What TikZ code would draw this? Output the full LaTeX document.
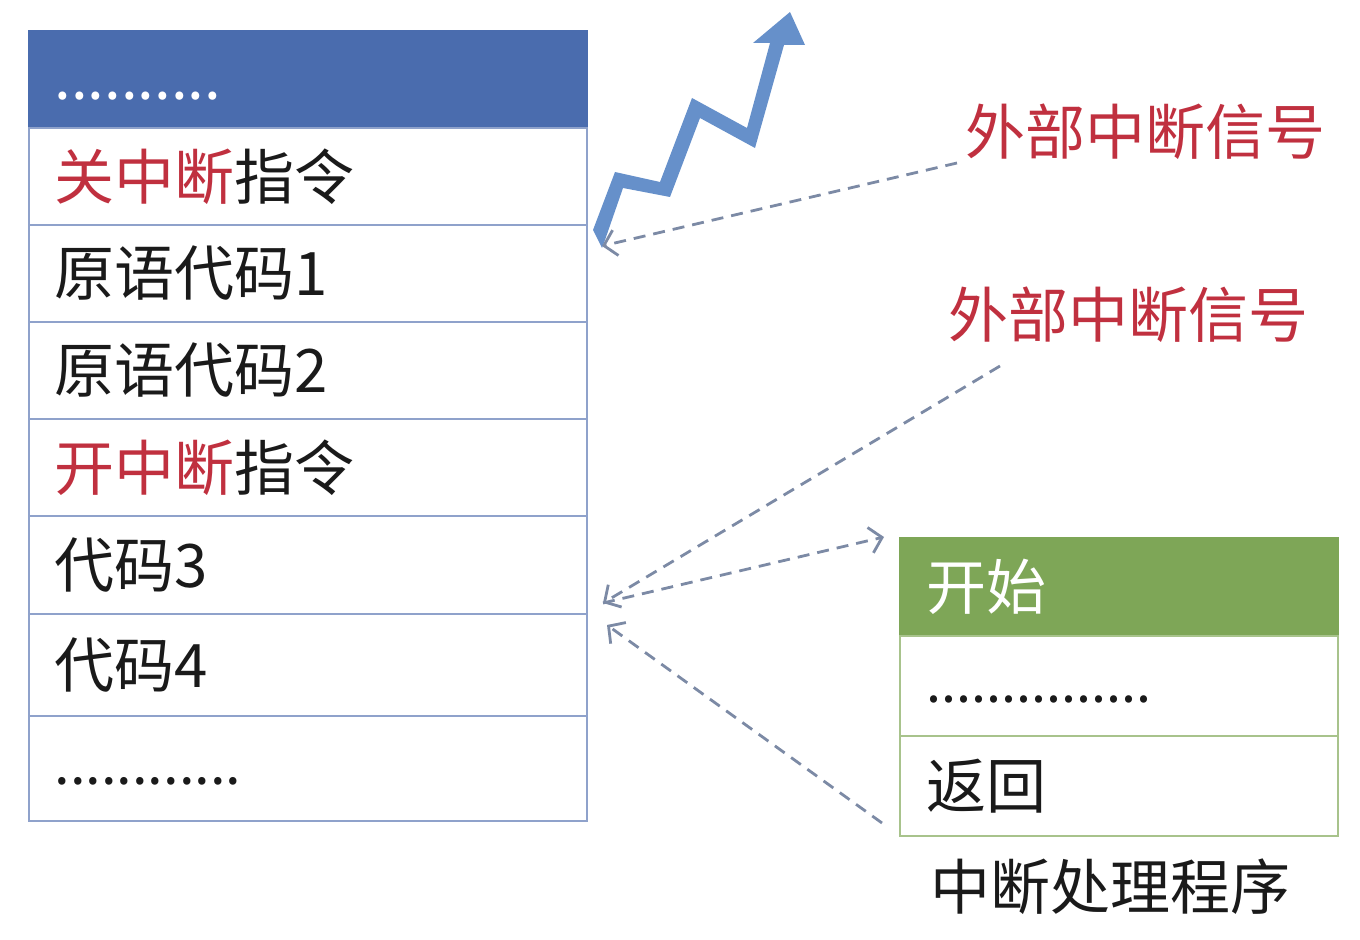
\documentclass[tikz,border=0pt]{standalone}
\usepackage{fontspec}
\setmainfont{Noto Sans CJK SC}
\usetikzlibrary{arrows.meta}
\definecolor{hdrblue}{HTML}{4A6CAE}
\definecolor{rowline}{HTML}{8FA2CB}
\definecolor{grn}{HTML}{7EA657}
\definecolor{grnline}{HTML}{A8C38C}
\definecolor{redtxt}{HTML}{C0303F}
\definecolor{sigcol}{HTML}{7C8AA5}
\definecolor{bolt}{HTML}{6690CA}
\definecolor{txt}{HTML}{1A1A1A}
\newcommand{\lowdots}[2]{\raisebox{-#1}[0pt][0pt]{#2}}
\begin{document}
\begin{tikzpicture}[x=0.5pt,y=-0.5pt,
  bigtext/.style={font=\fontsize{30pt}{36pt}\selectfont},
  lcell/.style={bigtext, draw=rowline, line width=1pt, anchor=north west,
    minimum width=279pt, text width=253.5pt, inner xsep=12.75pt, inner ysep=0pt,
    align=left, text=txt},
  rcell/.style={bigtext, draw=grnline, line width=1pt, anchor=north west,
    minimum width=219pt, text width=193pt, inner xsep=13pt, inner ysep=0pt,
    align=left, text=txt},
  siglabel/.style={bigtext, text=redtxt, anchor=west, inner sep=0pt},
  sigline/.style={draw=sigcol, line width=1.4pt, dash pattern=on 6pt off 4pt},
  sigarrow/.style={sigline, -{Straight Barb[length=6pt,width=13pt,line width=1.4pt]}}
]
\useasboundingbox (0,0) rectangle (1360,940);

% main program table
\node[lcell, fill=hdrblue, draw=hdrblue, minimum height=48.5pt, text=white] (hdr) at (28,30) {\lowdots{10pt}{..........}};
\node[lcell, minimum height=48.5pt] (r1) at (28,127) {\textcolor{redtxt}{关中断}指令};
\node[lcell, minimum height=48.5pt] (r2) at (28,224) {原语代码1};
\node[lcell, minimum height=48.5pt] (r3) at (28,321) {原语代码2};
\node[lcell, minimum height=48.5pt] (r4) at (28,418) {\textcolor{redtxt}{开中断}指令};
\node[lcell, minimum height=49pt] (r5) at (28,515) {代码3};
\node[lcell, minimum height=51pt] (r6) at (28,613) {代码4};
\node[lcell, minimum height=52.5pt] (r7) at (28,715) {\lowdots{8pt}{\fontsize{28pt}{34pt}\selectfont............}};

% interrupt handler table
\node[rcell, fill=grn, draw=grn, minimum height=49pt, text=white] (h0) at (899,537) {开始};
\node[rcell, minimum height=50pt] (h1) at (899,635) {\lowdots{8pt}{\fontsize{27pt}{34pt}\selectfont...............}};
\node[rcell, minimum height=50pt] (h2) at (899,735) {返回};
\node[bigtext, anchor=west, inner sep=0pt, text=txt] (cap) at (930,887) {中断处理程序};

% signal labels
\node[siglabel] (sig1) at (965,132) {外部中断信号};
\node[siglabel] (sig2) at (948,315) {外部中断信号};

% lightning bolt
\fill[bolt] (602,248) -- (593,230) -- (615,172) -- (660,182) -- (692,98)
  -- (747,128) -- (770,43) -- (753,43) -- (790,12) -- (805,45) -- (784,45)
  -- (755,148) -- (700,118) -- (670,197) -- (623,188) -- (605,240) -- cycle;

% connector end points
\coordinate (s1) at (957,163);
\coordinate (t1) at (602,246);
\coordinate (s2) at (1000,366);
\coordinate (t2) at (603,603);
\coordinate (e3) at (884,537);
\coordinate (s4) at (882,823);
\coordinate (t4) at (607,625);

\draw[sigarrow] (s1) -- (t1);
\draw[sigarrow] (s2) -- (t2);
\draw[sigarrow] (t2) -- (e3);
\draw[sigarrow] (s4) -- (t4);
\end{tikzpicture}
\end{document}
